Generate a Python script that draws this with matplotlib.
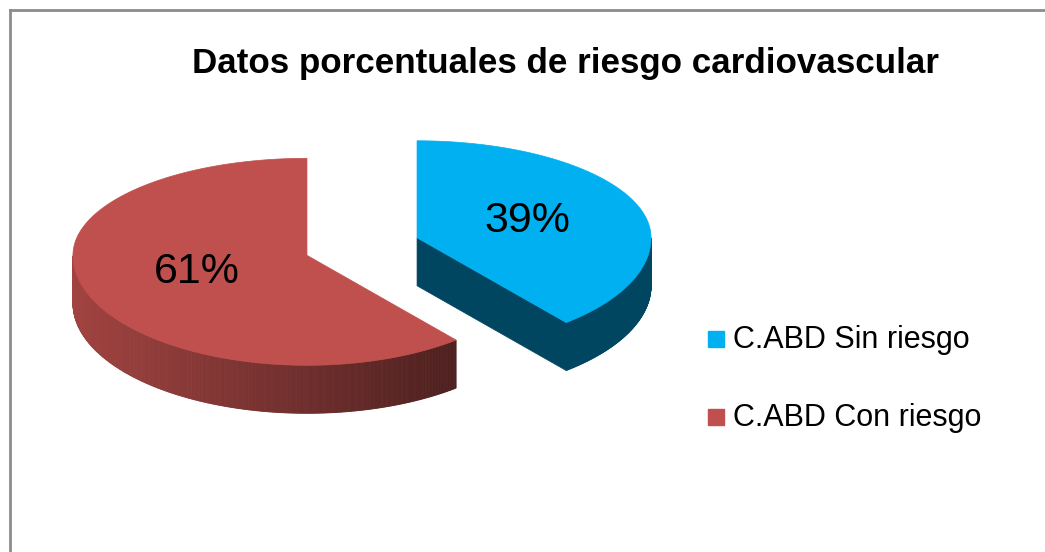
import numpy as np
import matplotlib.pyplot as plt
from matplotlib.patches import Polygon
from matplotlib.lines import Line2D

plt.rcParams['font.family'] = ['Liberation Sans', 'DejaVu Sans']

# data
categories = ['C.ABD Sin riesgo', 'C.ABD Con riesgo']
values = [39, 61]
title = 'Datos porcentuales de riesgo cardiovascular'

# styles
top_colors = ['#00B0F0', '#C0504D']
# side shading factor at the left and right end of each slice's side
side_shade = [(0.40, 0.40), (0.84, 0.40)]

# layout (pixels, y grows downward)
W, H = 1045, 552
cx, cy = 362, 246
rx = 234
ry_back, ry_front = 97, 110   # a bit of perspective
depth = 48
explode = 0.25


def shade(col, f):
    c = np.array(plt.matplotlib.colors.to_rgb(col))
    return tuple(np.clip(c * f, 0, 1))


def ry_of(t):
    return np.where(np.sin(t) >= 0, ry_back, ry_front)


fig = plt.figure(figsize=(W / 100, H / 100), dpi=100)
ax = fig.add_axes([0, 0, 1, 1])
ax.set_xlim(0, W)
ax.set_ylim(H, 0)
ax.axis('off')

total = float(sum(values))
slices = []
start = 90.0
for i, v in enumerate(values):
    t1 = start
    t2 = start - v / total * 360.0
    start = t2
    mid = np.radians((t1 + t2) / 2)
    ox = cx + explode * rx * np.cos(mid)
    oy = cy - explode * ry_of(mid) * np.sin(mid)
    slices.append((i, np.radians(t2), np.radians(t1), mid, ox, oy))

# back slices first
slices.sort(key=lambda s: -np.sin(s[3]))

for i, a2, a1, mid, ox, oy in slices:
    col = top_colors[i]
    sl, sr = side_shade[i]

    def px(t, d=0.0):
        return ox + rx * np.cos(t), oy - ry_of(t) * np.sin(t) + d

    ts = np.linspace(a2, a1, 500)
    xs, ys = px(ts)
    front = np.sin(ts) < 0
    xmin, xmax = xs[front].min(), xs[front].max()

    # radial cut faces
    for edge, normal in ((a1, a1 + np.pi / 2), (a2, a2 - np.pi / 2)):
        if np.sin(normal) < -0.05:
            ex, ey = px(edge)
            poly = [(ox, oy), (ex, ey), (ex, ey + depth), (ox, oy + depth)]
            fc = shade(col, (sl + sr) / 2)
            ax.add_patch(Polygon(poly, closed=True, fc=fc, ec=fc, lw=0.5))

    # outer curved side, front half only
    for k in range(len(ts) - 1):
        if not (front[k] and front[k + 1]):
            continue
        xm = (xs[k] + xs[k + 1]) / 2
        f = sl + (sr - sl) * (xm - xmin) / max(xmax - xmin, 1)
        fc = shade(col, f)
        poly = [(xs[k], ys[k]), (xs[k + 1], ys[k + 1]),
                (xs[k + 1], ys[k + 1] + depth), (xs[k], ys[k] + depth)]
        ax.add_patch(Polygon(poly, closed=True, fc=fc, ec=fc, lw=0.6))

    # top face
    poly = [(ox, oy)] + list(zip(xs, ys))
    ax.add_patch(Polygon(poly, closed=True, fc=col, ec=col, lw=0.5))

    # percentage label
    lx = ox + 0.5 * rx * np.cos(mid)
    ly = oy - 0.5 * ry_back * np.sin(mid)
    ax.text(lx, ly, '%d%%' % values[i], fontsize=31, ha='center',
            va='center', color='black')

# title
ax.text(566, 73, title, fontsize=25.2, fontweight='bold', ha='center',
        va='baseline', color='black')

# legend
for i, name in enumerate(categories):
    y = 339 + i * 78
    ax.plot([716], [y], marker='s', markersize=11.5, color=top_colors[i],
            linestyle='none')
    ax.text(733, y + 9, name, fontsize=22, ha='left', va='baseline',
            color='black')

# chart border (top and left only visible)
fig.add_artist(Line2D([10 / W, 1], [1 - 10 / H, 1 - 10 / H],
                      transform=fig.transFigure, color='#8c8c8c', lw=2))
fig.add_artist(Line2D([10 / W, 10 / W], [0, 1 - 10 / H],
                      transform=fig.transFigure, color='#8c8c8c', lw=2))

fig.savefig('out.png', dpi=100)
